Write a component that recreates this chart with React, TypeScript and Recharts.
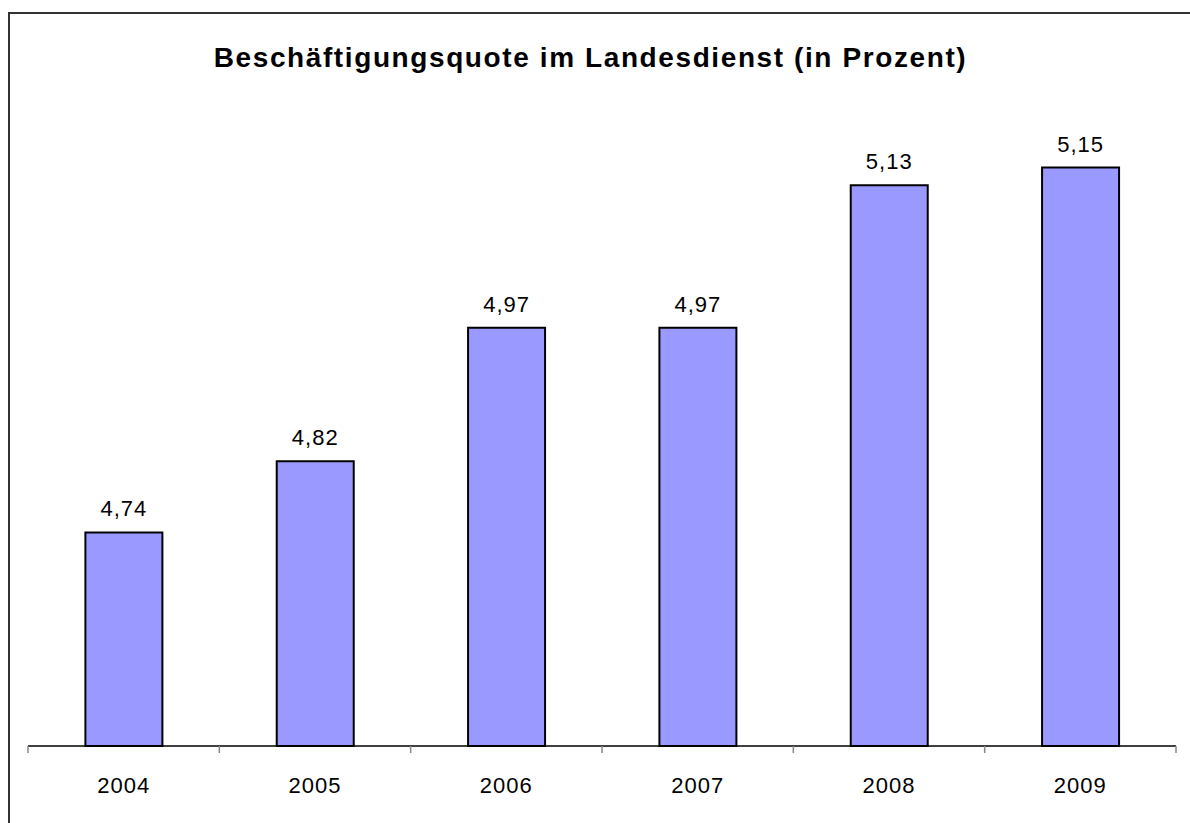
import { BarChart, Bar, XAxis, YAxis, LabelList } from 'recharts';

const years = ['2004', '2005', '2006', '2007', '2008', '2009'];
const quote = [4.74, 4.82, 4.97, 4.97, 5.13, 5.15];

const chartData = years.map((year, i) => ({ year, quote: quote[i], pos: i + 0.5 }));

const fmt = (v: any) => String(v).replace('.', ',').padEnd(4, '0');

export default function App() {
  return (
    <div style={{ position: 'absolute', left: 0, top: 0, width: 1190, height: 823, background: '#fff' }}>
      <div
        style={{
          position: 'absolute',
          left: 8,
          top: 12,
          width: 1200,
          height: 830,
          borderLeft: '2px solid #333',
          borderTop: '2px solid #333',
        }}
      />
      <div
        style={{
          position: 'absolute',
          left: 0,
          width: 1181,
          top: 42,
          textAlign: 'center',
          fontFamily: 'Liberation Sans, Arial, sans-serif',
          fontWeight: 'bold',
          fontSize: 28,
          letterSpacing: 1.6,
          color: '#000',
        }}
      >
        Beschäftigungsquote im Landesdienst (in Prozent)
      </div>
      <div style={{ position: 'absolute', left: 0, top: 0 }}>
        <BarChart
          width={1190}
          height={823}
          data={chartData}
          margin={{ top: 123, right: 14, bottom: 0, left: 28 }}
          barCategoryGap="30%"
          style={{ fontFamily: 'Liberation Sans, Arial, sans-serif' }}
        >
          <XAxis
            xAxisId={0}
            type="number"
            dataKey="pos"
            domain={[0, 6]}
            ticks={[0, 1, 2, 3, 4, 5, 6]}
            tickFormatter={() => ''}
            tickSize={7}
            height={1}
            axisLine={{ stroke: '#000', strokeWidth: 1.5 }}
            tickLine={{ stroke: '#888', strokeWidth: 1.5 }}
          />
          <XAxis
            xAxisId={1}
            dataKey="year"
            axisLine={false}
            tickLine={false}
            tickMargin={24}
            height={76}
            tick={{ fill: '#000', fontSize: 22, letterSpacing: 1 }}
          />
          <YAxis hide domain={[4.5, 5.2]} />
          <Bar xAxisId={1} dataKey="quote" fill="#9999ff" stroke="#000" strokeWidth={2} isAnimationActive={false}>
            <LabelList
              dataKey="quote"
              position="top"
              offset={16}
              formatter={fmt}
              style={{ fill: '#000', fontSize: 22, letterSpacing: 1 }}
            />
          </Bar>
        </BarChart>
      </div>
    </div>
  );
}
